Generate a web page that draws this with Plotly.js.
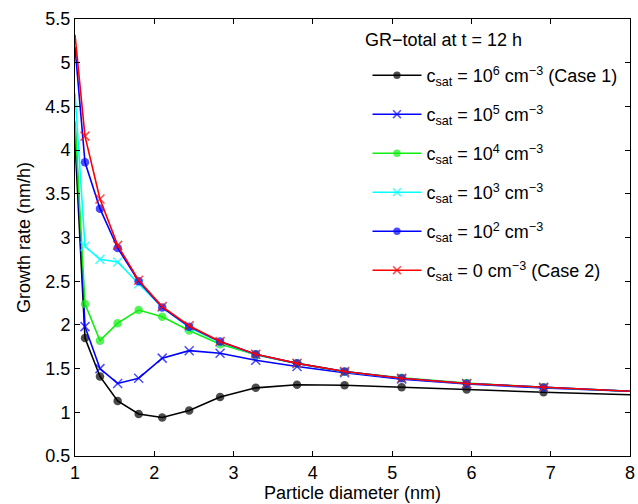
<!DOCTYPE html>
<html><head><meta charset="utf-8">
<script src="https://cdn.plot.ly/plotly-3.0.1.min.js"></script>
<style>body{margin:0;background:#fff}</style>
</head><body><div id="chart" style="width:638px;height:504px"></div>
<script>
// Particle diameter (nm); first/last entries are where the curves meet the axes
const diameter = [1, 1.126, 1.315, 1.538, 1.803, 2.10, 2.44, 2.83, 3.28, 3.80, 4.40, 5.12, 5.94, 6.91, 8];
const gr_case1 = [4.10, 1.85, 1.41, 1.13, 0.98, 0.94, 1.02, 1.175, 1.28, 1.315, 1.31, 1.286, 1.26, 1.23, 1.20];
const gr_1e5   = [4.30, 1.98, 1.50, 1.33, 1.39, 1.62, 1.705, 1.675, 1.595, 1.525, 1.453, 1.38, 1.324, 1.278, 1.24];
const gr_1e4   = [4.33, 2.24, 1.82, 2.02, 2.17, 2.094, 1.935, 1.78, 1.66, 1.56, 1.465, 1.395, 1.335, 1.286, 1.24];
const gr_1e3   = [4.65, 2.90, 2.75, 2.72, 2.47, 2.20, 1.97, 1.80, 1.66, 1.555, 1.465, 1.39, 1.33, 1.285, 1.24];
const gr_1e2   = [5.18, 3.86, 3.33, 2.88, 2.50, 2.20, 1.98, 1.81, 1.665, 1.56, 1.466, 1.39, 1.33, 1.285, 1.24];
const gr_case2 = [5.32, 4.16, 3.44, 2.91, 2.51, 2.21, 1.99, 1.81, 1.665, 1.56, 1.466, 1.39, 1.33, 1.285, 1.24];

const legendTitle = 'GR−total at t = 12 h';
const seriesNames = [
  'c<sub>sat</sub> = 10<sup>6</sup> cm<sup>−3</sup> (Case 1)',
  'c<sub>sat</sub> = 10<sup>5</sup> cm<sup>−3</sup>',
  'c<sub>sat</sub> = 10<sup>4</sup> cm<sup>−3</sup>',
  'c<sub>sat</sub> = 10<sup>3</sup> cm<sup>−3</sup>',
  'c<sub>sat</sub> = 10<sup>2</sup> cm<sup>−3</sup>',
  'c<sub>sat</sub> = 0 cm<sup>−3</sup> (Case 2)'
];
const seriesValues = [gr_case1, gr_1e5, gr_1e4, gr_1e3, gr_1e2, gr_case2];
const colors = ['#000000', '#0000ff', '#11ee11', '#00ffff', '#0000ff', '#ff0000'];
const symbols = ['circle', 'x-thin', 'circle', 'x-thin', 'circle', 'x-thin'];

const n = diameter.length;
const traces = seriesValues.map((vals, k) => {
  const isX = symbols[k] === 'x-thin';
  const sz = diameter.map((d, i) => (i === 0 || i === n - 1) ? 0 : (isX ? 9 : 8.5));
  return {
    type: 'scatter', mode: 'lines+markers',
    x: diameter, y: vals, name: seriesNames[k], legendgroup: 'g' + k,
    line: {color: colors[k], width: 1.6},
    marker: {symbol: symbols[k], size: sz, color: colors[k],
             line: {color: colors[k], width: isX ? 1.5 : 0}}
  };
});

const fontFam = '"Liberation Sans", Arial, Helvetica, sans-serif';
const layout = {
  width: 638, height: 504,
  margin: {l: 75, r: 8, t: 19, b: 48},
  paper_bgcolor: '#fff', plot_bgcolor: '#fff',
  font: {family: fontFam, size: 18, color: '#000'},
  showlegend: true,
  legend: {
    x: 0.527, y: 0.913, xanchor: 'left', yanchor: 'top',
    bgcolor: 'rgba(255,255,255,0)', borderwidth: 0,
    traceorder: 'grouped', tracegroupgap: 12.6, itemwidth: 49,
    font: {family: fontFam, size: 18, color: '#000'}
  },
  annotations: [{
    text: legendTitle, xref: 'paper', yref: 'paper',
    x: 0.519, y: 0.952, xanchor: 'left', yanchor: 'middle',
    showarrow: false, font: {family: fontFam, size: 18, color: '#000'}
  }],
  xaxis: {
    range: [1, 8], dtick: 1, tick0: 1, showgrid: false, zeroline: false,
    showline: true, linecolor: '#000', linewidth: 1, mirror: 'ticks',
    ticks: 'inside', ticklen: 5, tickcolor: '#000',
    tickfont: {size: 18},
    title: {text: 'Particle diameter (nm)', font: {size: 18}, standoff: 4}
  },
  yaxis: {
    range: [0.5, 5.5], dtick: 0.5, tick0: 0.5, showgrid: false, zeroline: false,
    showline: true, linecolor: '#000', linewidth: 1, mirror: 'ticks',
    ticks: 'inside', ticklen: 5, tickcolor: '#000',
    tickfont: {size: 18},
    title: {text: 'Growth rate (nm/h)', font: {size: 18}, standoff: 10}
  }
};
Plotly.newPlot('chart', traces, layout, {displayModeBar: false, staticPlot: true});
</script></body></html>
